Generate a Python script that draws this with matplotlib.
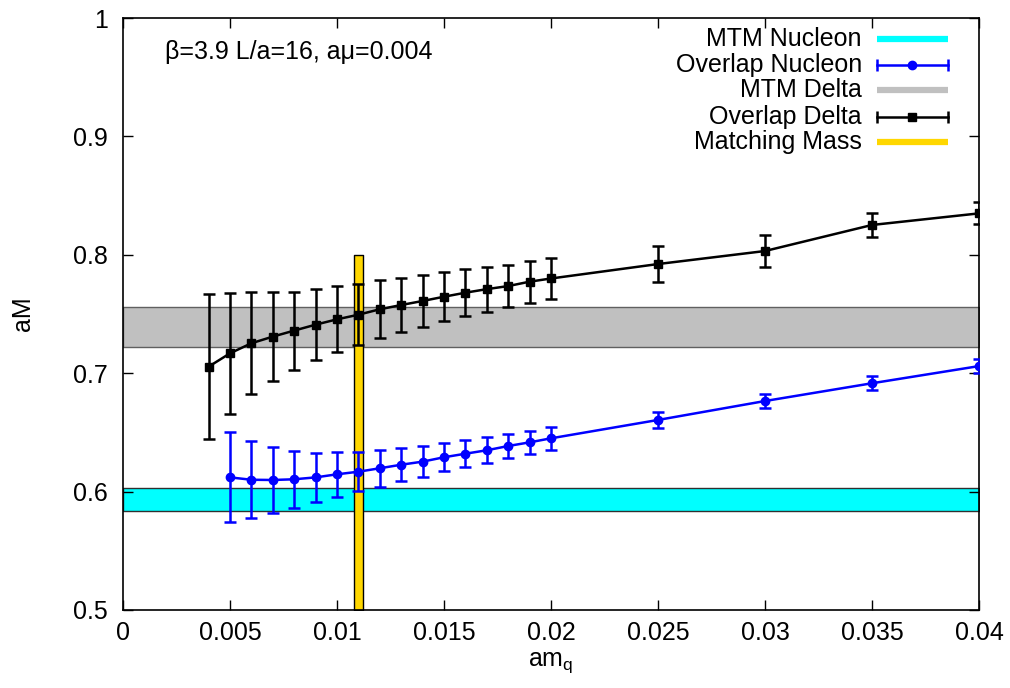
import numpy as np
import matplotlib
matplotlib.use("Agg")
import matplotlib.pyplot as plt

plt.rcParams['font.family'] = ['Liberation Sans', 'DejaVu Sans']
plt.rcParams['mathtext.fontset'] = 'custom'
plt.rcParams['mathtext.rm'] = 'Liberation Sans'

# overlap delta
mq_delta = [0.004, 0.005, 0.006, 0.007, 0.008, 0.009, 0.010, 0.011, 0.012, 0.013,
            0.014, 0.015, 0.016, 0.017, 0.018, 0.019, 0.020, 0.025, 0.030, 0.035, 0.040]
m_delta = [0.7055, 0.7168, 0.7253, 0.7309, 0.736, 0.741, 0.7455, 0.7494, 0.754, 0.7576,
           0.761, 0.7646, 0.768, 0.771, 0.7736, 0.7773, 0.780, 0.7922, 0.8032, 0.8252, 0.835]
err_delta = [0.061, 0.051, 0.043, 0.0375, 0.033, 0.030, 0.028, 0.026, 0.0245, 0.023,
             0.022, 0.0205, 0.020, 0.019, 0.018, 0.0178, 0.017, 0.015, 0.0133, 0.0098, 0.0093]

# overlap nucleon
mq_nuc = [0.005, 0.006, 0.007, 0.008, 0.009, 0.010, 0.011, 0.012, 0.013, 0.014,
          0.015, 0.016, 0.017, 0.018, 0.019, 0.020, 0.025, 0.030, 0.035, 0.040]
m_nuc = [0.612, 0.610, 0.6098, 0.6104, 0.612, 0.6146, 0.6168, 0.6197, 0.6227, 0.6253,
         0.629, 0.632, 0.6349, 0.6385, 0.6416, 0.645, 0.6605, 0.6765, 0.6915, 0.706]
err_nuc = [0.038, 0.0325, 0.028, 0.0243, 0.021, 0.019, 0.0165, 0.0155, 0.014, 0.013,
           0.012, 0.0115, 0.0108, 0.010, 0.0096, 0.0095, 0.0065, 0.006, 0.006, 0.006]

# MTM bands (lower, upper)
mtm_nucleon = (0.584, 0.603)
mtm_delta = (0.722, 0.756)

# matching mass bar
match_mq = 0.011
match_halfwidth = 0.0002
match_top = 0.8

FS = 18

fig = plt.figure(figsize=(10.1, 6.88), dpi=100)
ax = fig.add_axes([0.1218, 0.1134, 0.8475, 0.8604])

xs = np.array([0.0, 0.04])
ax.fill_between(xs, mtm_nucleon[0], mtm_nucleon[1], facecolor='#00ffff',
                edgecolor='#303030', linewidth=1.0, zorder=1)
ax.fill_between(xs, mtm_delta[0], mtm_delta[1], facecolor='#c0c0c0',
                edgecolor='#606060', linewidth=1.0, zorder=1)
ax.fill_between([match_mq - match_halfwidth, match_mq + match_halfwidth], 0.5, match_top,
                facecolor='#ffd700', edgecolor='black', linewidth=1.0, zorder=2)

ax.errorbar(mq_nuc, m_nuc, yerr=err_nuc, color='#0000ff', marker='o', markersize=6,
            linewidth=1.8, elinewidth=1.8, capsize=4, capthick=1.8, zorder=3)
ax.errorbar(mq_delta, m_delta, yerr=err_delta, color='black', marker='s', markersize=6,
            linewidth=1.8, elinewidth=1.8, capsize=4, capthick=1.8, zorder=4)

ax.set_xlim(0, 0.04)
ax.set_ylim(0.5, 1.0)
ax.set_xticks(np.arange(0, 0.0401, 0.005))
ax.set_xticklabels(['0', '0.005', '0.01', '0.015', '0.02', '0.025', '0.03', '0.035', '0.04'])
ax.set_yticks(np.arange(0.5, 1.001, 0.1))
ax.set_yticklabels(['0.5', '0.6', '0.7', '0.8', '0.9', '1'])
ax.tick_params(direction='in', length=7, width=1, top=True, right=True, labelsize=FS)
ax.tick_params(axis='x', pad=8)
ax.tick_params(axis='y', pad=11)
for s in ax.spines.values():
    s.set_linewidth(1.2)

ax.set_xlabel(r'am$_\mathrm{q}$', fontsize=FS, labelpad=4)
ax.set_ylabel('aM', fontsize=FS, labelpad=27)

ax.text(0.049, 0.9426, 'β=3.9 L/a=16, aμ=0.004', transform=ax.transAxes,
        fontsize=FS, ha='left', va='center')

# key, text right-aligned with samples to its right
key_y = [0.9645, 0.9206, 0.8784, 0.8328, 0.7905]
key_text = ['MTM Nucleon', 'Overlap Nucleon', 'MTM Delta', 'Overlap Delta', 'Matching Mass']
x0, x1 = 0.8808, 0.9638
for y, t in zip(key_y, key_text):
    ax.text(0.8633, y, t, transform=ax.transAxes, fontsize=FS, ha='right', va='center')
tr = ax.transAxes
ax.plot([x0, x1], [key_y[0]] * 2, color='#00ffff', lw=4.5, transform=tr, solid_capstyle='butt')
ax.plot([x0, x1], [key_y[2]] * 2, color='#c0c0c0', lw=4.5, transform=tr, solid_capstyle='butt')
ax.plot([x0, x1], [key_y[4]] * 2, color='#ffd700', lw=4.5, transform=tr, solid_capstyle='butt')
for y, c, m in [(key_y[1], '#0000ff', 'o'), (key_y[3], 'black', 's')]:
    ax.plot([x0, x1], [y, y], color=c, lw=1.8, transform=tr)
    ax.plot([x0, x1], [y, y], color=c, lw=0, marker='|', markersize=8,
            markeredgewidth=1.8, transform=tr)
    ax.plot([(x0 + x1) / 2], [y], color=c, marker=m, markersize=6, transform=tr)

fig.savefig('out.png', dpi=100)
